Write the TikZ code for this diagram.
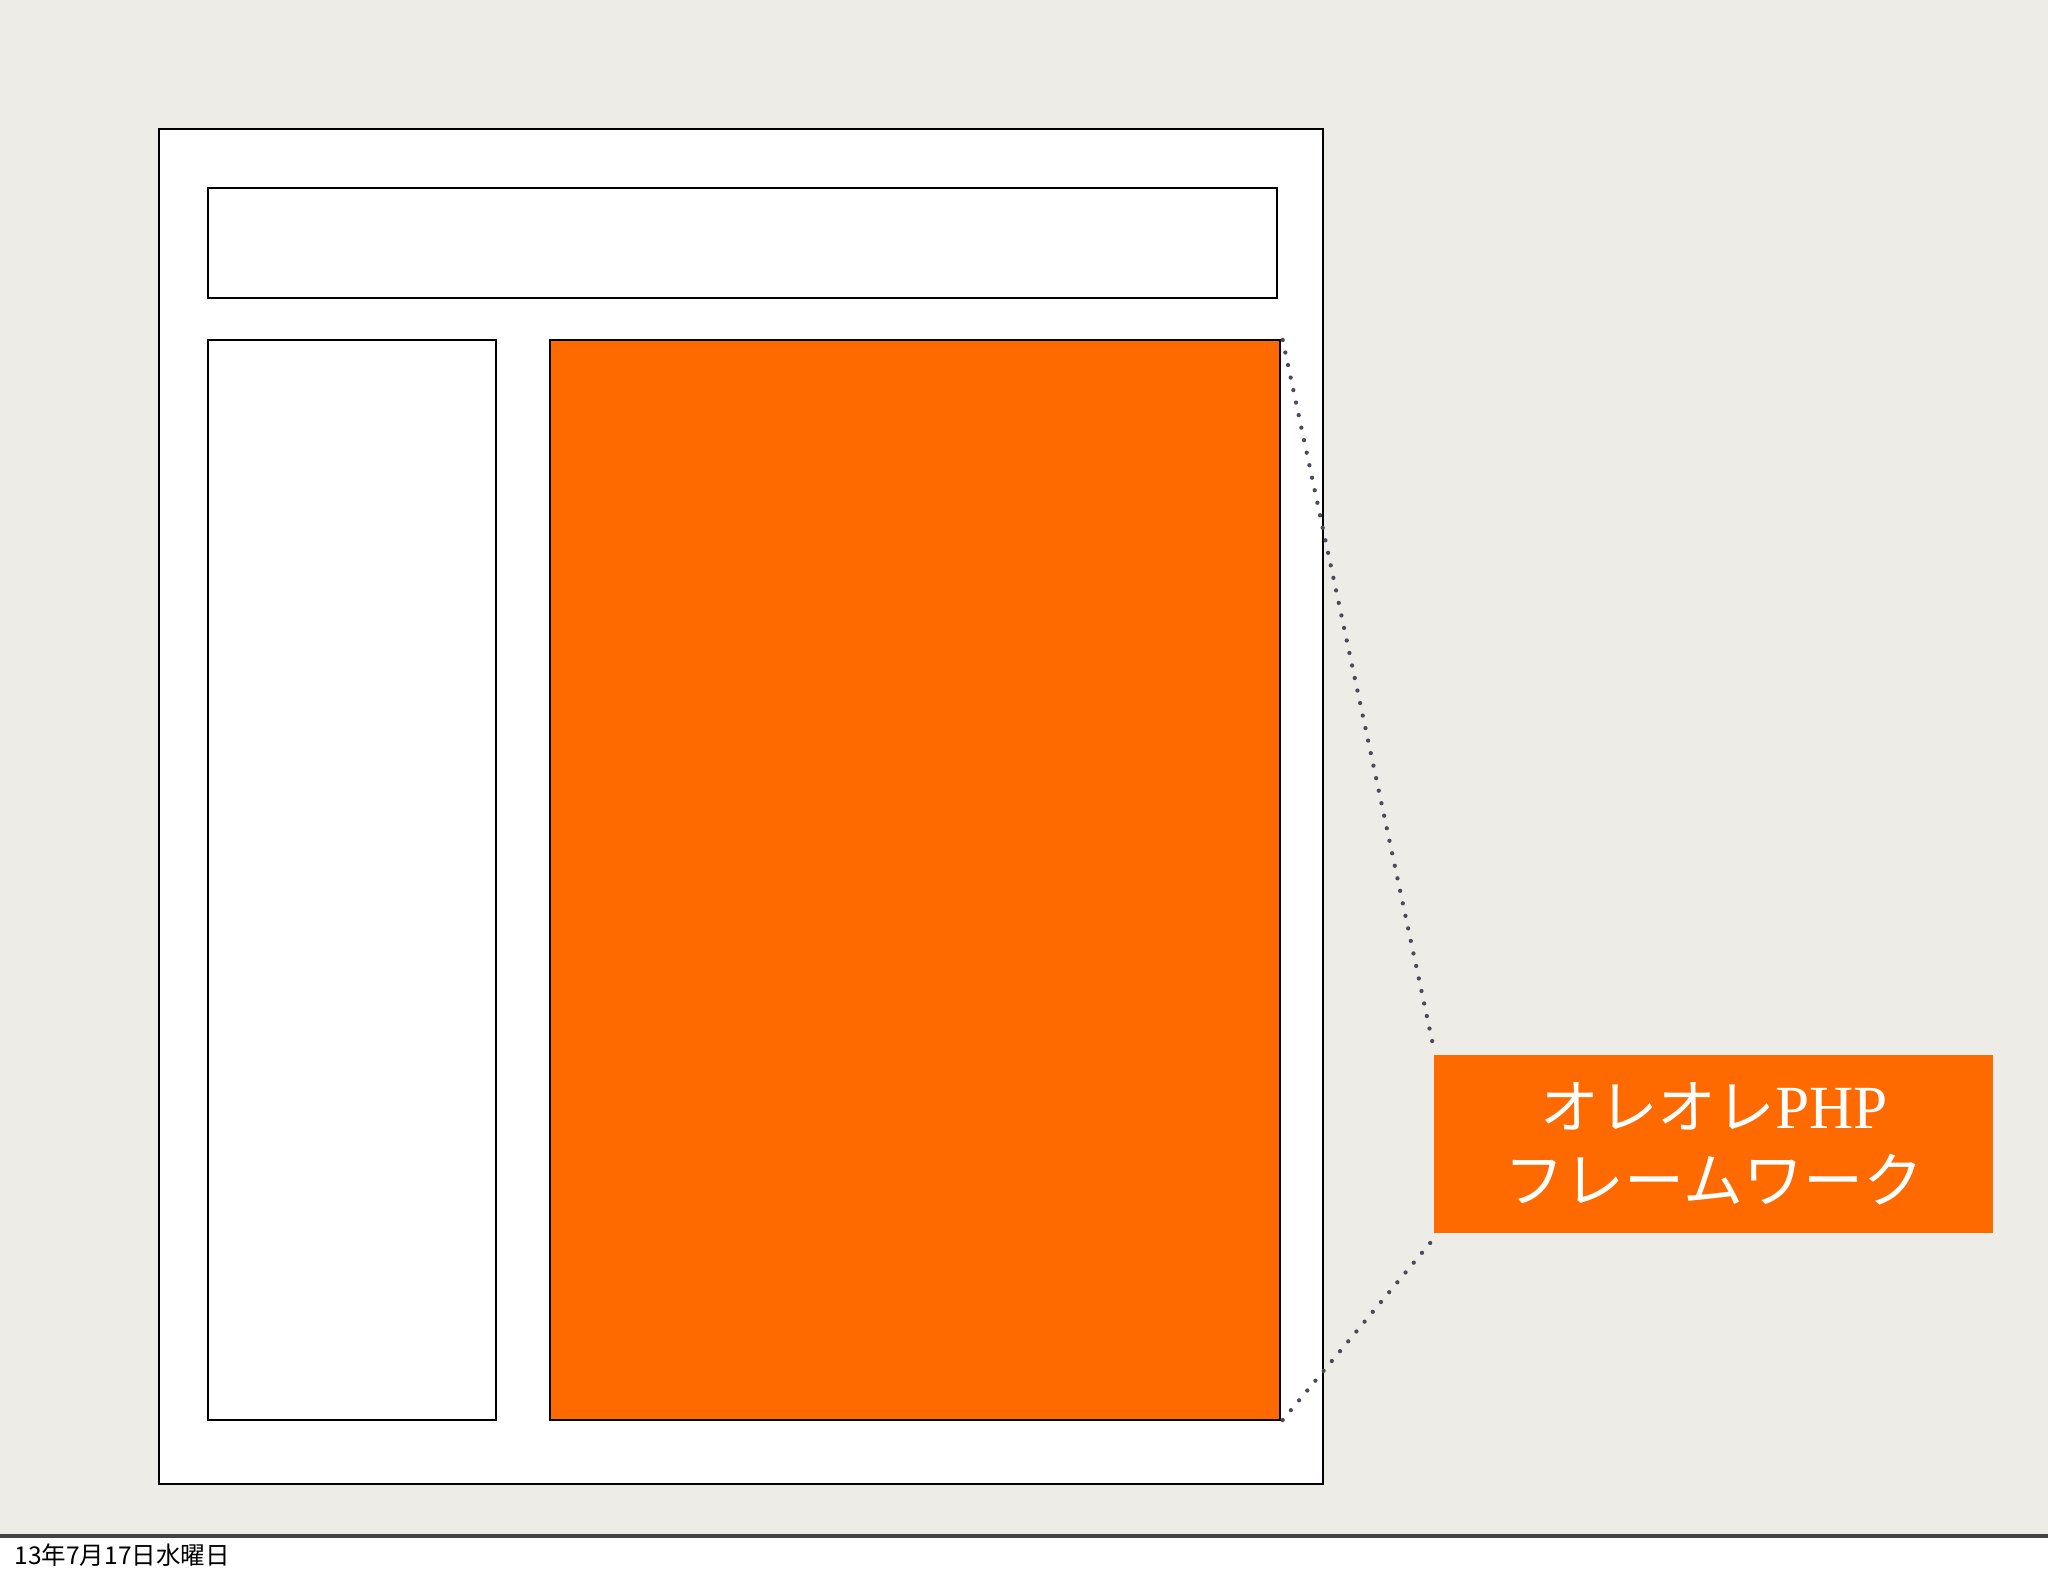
\documentclass[tikz,border=0pt]{standalone}
\usepackage{fontspec}
\newfontfamily\jpsans{Noto Sans CJK JP}
\setmainfont{Liberation Serif}
\definecolor{paper}{HTML}{EEECE7}
\definecolor{orangefill}{HTML}{FF6A00}
\definecolor{dotgray}{HTML}{4A4A58}
\definecolor{sepgray}{HTML}{444444}
\tikzset{
  box/.style={draw=black, line width=1.1pt, fill=white, anchor=north west, inner sep=0pt, outer sep=0pt},
  orangebox/.style={draw=black, line width=0.8pt, fill=orangefill, anchor=north west, inner sep=0pt, outer sep=0pt},
  labelbox/.style={fill=orangefill, anchor=north west, inner sep=0pt, outer sep=0pt},
  dotline/.style={draw=dotgray, line width=1.6pt, line cap=round, dash pattern=on 0pt off 4.8pt},
}
\begin{document}
\begin{tikzpicture}[x=0.375pt, y=-0.375pt]
\useasboundingbox (0,0) rectangle (2048,1576);
\fill[paper] (0,0) rectangle (2048,1536);
\fill[white] (0,1536) rectangle (2048,1576);
\draw[sepgray, line width=1.2pt] (0,1536) -- (2048,1536);
\node[box, minimum width={1164*0.375pt}, minimum height={1355*0.375pt}] (page) at (159,129) {};
\node[box, minimum width={1069*0.375pt}, minimum height={110*0.375pt}] (header) at (208,188) {};
\node[box, minimum width={288*0.375pt}, minimum height={1080*0.375pt}] (side) at (208,340) {};
\node[orangebox, minimum width={730*0.375pt}, minimum height={1080*0.375pt}] (main) at (550,340) {};
\node[labelbox, minimum width={559*0.375pt}, minimum height={178*0.375pt}] (label) at (1434,1055) {};
\node[text=white, font=\fontsize{23pt}{28pt}\selectfont, align=center, inner sep=0pt] (labeltext) at (1714,1144)
  {{\jpsans\fontsize{22pt}{28pt}\selectfont オレオレ}PHP\\{\jpsans\fontsize{22.5pt}{28pt}\selectfont フレームワーク}};
\draw[dotline] ([xshift=1pt]main.north east) -- ([yshift=2pt]label.north west);
\draw[dotline] ([xshift=1pt]main.south east) -- ([yshift=-2pt]label.south west);
\node[anchor=west, inner sep=0pt, font=\jpsans\fontsize{9.2pt}{11pt}\selectfont] (date) at (14,1555) {13年7月17日水曜日};
\end{tikzpicture}
\end{document}
